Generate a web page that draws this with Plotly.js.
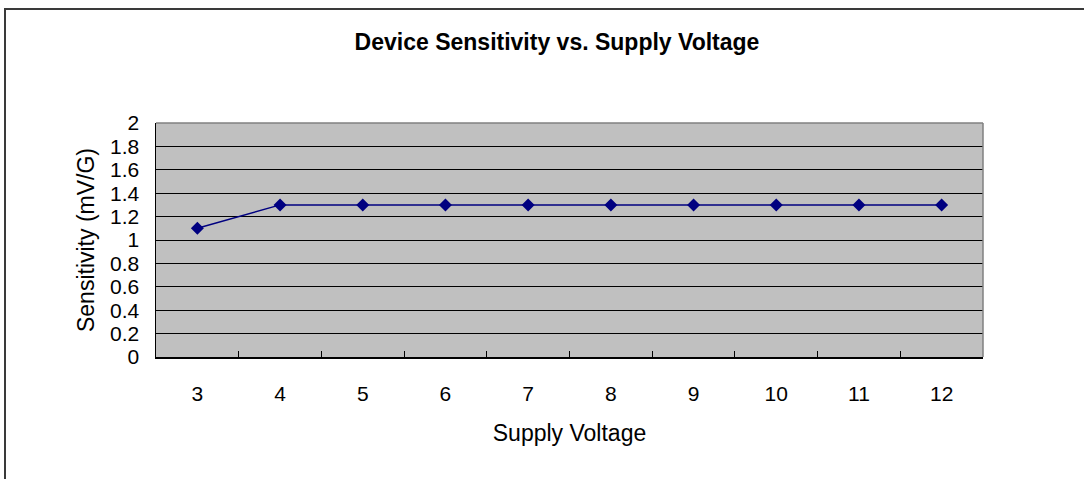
<!DOCTYPE html>
<html>
<head>
<meta charset="utf-8">
<script src="https://cdn.plot.ly/plotly-3.0.1.min.js"></script>
<style>
  html, body { margin: 0; padding: 0; background: #ffffff; }
  #wrap { position: relative; width: 1084px; height: 479px; }
  #chart { position: absolute; left: 0; top: 0; width: 1084px; height: 479px; }
  #frame { position: absolute; left: 4px; top: 8px; width: 1080px; height: 471px;
           border-left: 2px solid #3a3a3a; border-top: 2px solid #3a3a3a;
           pointer-events: none; box-sizing: border-box; }
</style>
</head>
<body>
<div id="wrap">
  <div id="chart"></div>
  <div id="frame"></div>
</div>
<script>
const supplyVoltage = ['3', '4', '5', '6', '7', '8', '9', '10', '11', '12'];
const sensitivity = [1.1, 1.3, 1.3, 1.3, 1.3, 1.3, 1.3, 1.3, 1.3, 1.3];
const yTickVals = [0, 0.2, 0.4, 0.6, 0.8, 1, 1.2, 1.4, 1.6, 1.8, 2];
const yTickText = ['0', '0.2', '0.4', '0.6', '0.8', '1', '1.2', '1.4', '1.6', '1.8', '2'];
const chartTitle = 'Device Sensitivity vs. Supply Voltage';
const xTitle = 'Supply Voltage';
const yTitle = 'Sensitivity (mV/G)';

const FONT = 'Arial, "Liberation Sans", sans-serif';

const trace = {
  x: supplyVoltage,
  y: sensitivity,
  type: 'scatter',
  mode: 'lines+markers',
  line: { color: '#000080', width: 1.5 },
  marker: { symbol: 'diamond', size: 10, color: '#000080' },
  hoverinfo: 'x+y',
  showlegend: false
};

const layout = {
  width: 1084,
  height: 479,
  margin: { l: 156, r: 101, t: 123, b: 122, pad: 0 },
  paper_bgcolor: 'rgba(0,0,0,0)',
  plot_bgcolor: '#c0c0c0',
  font: { family: FONT, color: '#000000' },
  title: {
    text: '<b>' + chartTitle + '</b>',
    font: { family: FONT, size: 23, color: '#000000' },
    xref: 'container', x: 557 / 1084, xanchor: 'center',
    yref: 'container', y: 1 - 42 / 479, yanchor: 'middle'
  },
  xaxis: {
    type: 'category',
    range: [-0.5, supplyVoltage.length - 0.5],
    tickson: 'boundaries',
    ticks: 'inside',
    ticklen: 6,
    tickwidth: 1,
    tickcolor: '#000000',
    showgrid: false,
    showline: true,
    linecolor: '#000000',
    linewidth: 1.5,
    zeroline: false,
    tickfont: { family: FONT, size: 21, color: '#000000' },
    ticklabelstandoff: 17,
    title: { text: xTitle, font: { family: FONT, size: 23, color: '#000000' }, standoff: 21 },
    fixedrange: true
  },
  yaxis: {
    range: [0, 2],
    tickvals: yTickVals,
    ticktext: yTickText,
    ticks: 'inside',
    ticklen: 6,
    tickcolor: '#000000',
    showgrid: true,
    gridcolor: '#000000',
    gridwidth: 1,
    showline: true,
    linecolor: '#000000',
    linewidth: 1.5,
    zeroline: false,
    tickfont: { family: FONT, size: 21, color: '#000000' },
    ticklabelstandoff: 11,
    title: { text: yTitle, font: { family: FONT, size: 23, color: '#000000' }, standoff: 9 },
    fixedrange: true
  },
  shapes: [
    { type: 'line', xref: 'paper', yref: 'paper', x0: 0, x1: 1, y0: 1, y1: 1,
      line: { color: '#808080', width: 1.5 }, layer: 'above' },
    { type: 'line', xref: 'paper', yref: 'paper', x0: 1, x1: 1, y0: 0, y1: 1,
      line: { color: '#808080', width: 1.5 }, layer: 'above' }
  ]
};

Plotly.newPlot('chart', [trace], layout, { displayModeBar: false, staticPlot: true });
</script>
</body>
</html>
